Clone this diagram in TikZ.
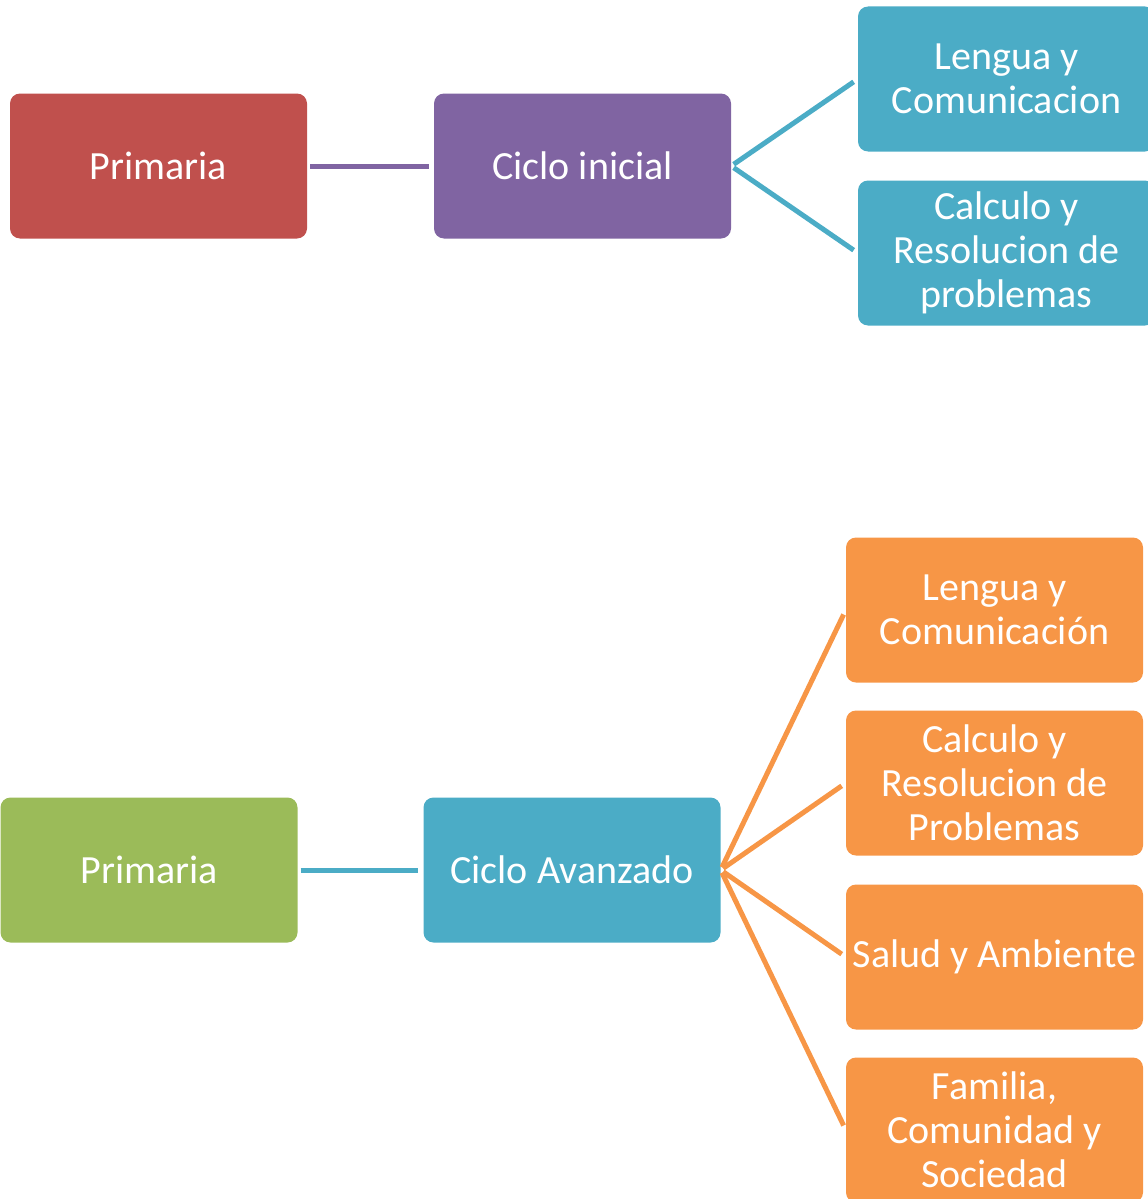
\documentclass[tikz,border=0pt]{standalone}
\usepackage{fontspec}
\setmainfont{Carlito}
\definecolor{rojo}{HTML}{C0504D}
\definecolor{morado}{HTML}{8064A2}
\definecolor{celeste}{HTML}{4BACC6}
\definecolor{verde}{HTML}{9BBB59}
\definecolor{naranja}{HTML}{F79646}
\begin{document}
\begin{tikzpicture}[x=1pt, y=-1pt,
    caja/.style={fill=#1, rounded corners=10pt, minimum width=297pt, minimum height=145pt,
      inner sep=0pt, text=white, align=center, font=\fontsize{40}{44}\selectfont},
    rama/.style={draw=#1, line width=5pt, shorten <=3pt, shorten >=5pt}]
    \useasboundingbox (0,0) rectangle (1148,1199);

    % ciclo inicial
    \node[caja=rojo] (p1) at (158.5, 166) {Primaria};
    \node[caja=morado] (c1) at (582.5, 166) {Ciclo inicial};
    \node[caja=celeste] (l1) at (1006.5, 79) {Lengua y\\Comunicacion};
    \node[caja=celeste] (k1) at (1006.5, 253) {Calculo y\\Resolucion de\\problemas};

    \draw[rama=morado] (p1) -- (c1);
    \draw[rama=celeste] (c1.east) -- (l1.west);
    \draw[rama=celeste] (c1.east) -- (k1.west);

    % ciclo avanzado
    \node[caja=verde] (p2) at (149, 870) {Primaria};
    \node[caja=celeste] (c2) at (572, 870) {Ciclo Avanzado};
    \node[caja=naranja] (o1) at (994.5, 610) {Lengua y\\Comunicación};
    \node[caja=naranja] (o2) at (994.5, 783) {Calculo y\\Resolucion de\\Problemas};
    \node[caja=naranja] (o3) at (994.5, 957) {Salud y Ambiente};
    \node[caja=naranja] (o4) at (994.5, 1130) {Familia,\\Comunidad y\\Sociedad};

    \draw[rama=celeste] (p2) -- (c2);
    \draw[rama=naranja] (c2.east) -- (o1.west);
    \draw[rama=naranja] (c2.east) -- (o2.west);
    \draw[rama=naranja] (c2.east) -- (o3.west);
    \draw[rama=naranja] (c2.east) -- (o4.west);
  \end{tikzpicture}
\end{document}
